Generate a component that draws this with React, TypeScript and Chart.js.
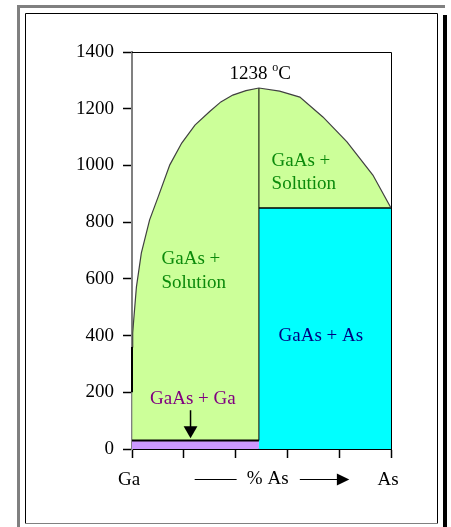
import React, { useEffect, useRef } from 'react';
import { Chart, registerables } from 'chart.js';

Chart.register(...registerables);

// ---- data ----
const xTickValues = [0, 20, 40, 60, 80, 100];
const xTickLabels = ['Ga', '', '', '', '', 'As'];
const yTickValues = [0, 200, 400, 600, 800, 1000, 1200, 1400];

// liquidus curve (% As, temperature °C)
const liquidusX = [0, 0.27, 0.66, 1.7, 3.6, 6.8, 10.1, 14.6, 19.2, 24.3, 30.0, 34.3, 38.9, 44.0, 49, 57.0, 64.8, 73.7, 83.0, 93.0, 100];
const liquidusT = [360, 409, 455, 571, 691, 808, 889, 1002, 1079, 1142, 1190, 1224, 1248, 1264, 1273, 1262, 1241, 1171, 1083, 966, 850];

const gaasComposition = 49; // GaAs line
const peakT = 1273;
const eutecticT = 30; // GaAs + Ga boundary
const asSolidusT = 850; // GaAs + As boundary
const leftEdgeSegmentT = [200, 360];
const arrowX = 22.6;
const arrowT = [137, 70, 66];

const meltLabel = '1238';
const regionTexts = ['GaAs +', 'Solution', 'GaAs + As', 'GaAs + Ga', '% As'];

const SERIF = '"Liberation Serif", "Times New Roman", serif';

const pts = (xs: number[], ys: number[]) => xs.map((x, i) => ({ x, y: ys[i] }));

const framePlugin = {
  id: 'frameAndText',
  beforeDraw(chart: any) {
    const ctx = chart.ctx;
    ctx.save();
    ctx.fillStyle = '#ffffff';
    ctx.fillRect(0, 0, chart.width, chart.height);
    // outer gray frame (top / left)
    ctx.fillStyle = '#808080';
    ctx.fillRect(17, 5, 428, 3);
    ctx.fillRect(17, 5, 3, 522);
    // right dark shadow
    ctx.fillStyle = '#000000';
    ctx.fillRect(443, 15, 4, 512);
    // inner thin frame
    ctx.strokeStyle = '#000000';
    ctx.lineWidth = 1;
    ctx.beginPath();
    ctx.moveTo(25.5, 523.5);
    ctx.lineTo(25.5, 13.5);
    ctx.lineTo(437.5, 13.5);
    ctx.lineTo(437.5, 523.5);
    ctx.stroke();
    ctx.strokeStyle = '#808080';
    ctx.beginPath();
    ctx.moveTo(25.5, 523.5);
    ctx.lineTo(437.5, 523.5);
    ctx.stroke();
    ctx.restore();
  },
  afterDraw(chart: any) {
    const ctx = chart.ctx;
    const xs = chart.scales.x;
    const ys = chart.scales.y;
    const { top, right, left, bottom } = chart.chartArea;
    const px = (v: number) => xs.getPixelForValue(v);
    const py = (v: number) => ys.getPixelForValue(v);
    ctx.save();
    // plot box top and right
    ctx.strokeStyle = '#000000';
    ctx.lineWidth = 1;
    ctx.beginPath();
    ctx.moveTo(left, top + 0.5);
    ctx.lineTo(right + 0.5, top + 0.5);
    ctx.lineTo(right + 0.5, bottom);
    ctx.stroke();
    // black segment on left axis
    ctx.lineWidth = 2;
    ctx.beginPath();
    ctx.moveTo(left, py(leftEdgeSegmentT[0]));
    ctx.lineTo(left, py(leftEdgeSegmentT[1]));
    ctx.stroke();

    ctx.textBaseline = 'middle';
    const font = (s: number) => `${s}px ${SERIF}`;

    // melting point label
    ctx.fillStyle = '#000000';
    ctx.font = font(19);
    const a = meltLabel + ' ';
    const wa = ctx.measureText(a).width;
    ctx.font = font(12);
    const wo = ctx.measureText('o').width;
    ctx.font = font(19);
    const wc = ctx.measureText('C').width;
    const cx = px(49.5);
    const cy = py(1323);
    const sx = cx - (wa + wo + wc) / 2;
    ctx.textAlign = 'left';
    ctx.fillText(a, sx, cy);
    ctx.font = font(12);
    ctx.fillText('o', sx + wa, cy - 6);
    ctx.font = font(19);
    ctx.fillText('C', sx + wa + wo, cy);

    // region labels
    ctx.font = font(19);
    ctx.fillStyle = '#0b8a0b';
    ctx.textAlign = 'left';
    ctx.fillText(regionTexts[0], px(53.9), py(1016));
    ctx.fillText(regionTexts[1], px(53.9), py(935));
    ctx.fillText(regionTexts[0], px(11.4), py(670));
    ctx.fillText(regionTexts[1], px(11.4), py(587));
    ctx.textAlign = 'center';
    ctx.fillStyle = '#000080';
    ctx.fillText(regionTexts[2], px(72.9), py(400));
    ctx.fillStyle = '#800080';
    ctx.fillText(regionTexts[3], px(23.5), py(176));

    // x axis title with arrow
    const ty = bottom + 30;
    ctx.fillStyle = '#000000';
    ctx.fillText(regionTexts[4], px(52.4), ty);
    ctx.lineWidth = 1;
    ctx.beginPath();
    ctx.moveTo(px(24.2), ty + 0.5);
    ctx.lineTo(px(40.4), ty + 0.5);
    ctx.moveTo(px(64.8), ty + 0.5);
    ctx.lineTo(px(79.5), ty + 0.5);
    ctx.stroke();
    ctx.beginPath();
    ctx.moveTo(px(79.1), ty - 5.5);
    ctx.lineTo(px(83.9), ty + 0.5);
    ctx.lineTo(px(79.1), ty + 6.5);
    ctx.closePath();
    ctx.fill();
    ctx.restore();
  },
};

export default function App() {
  const ref = useRef<HTMLCanvasElement | null>(null);
  useEffect(() => {
    if (!ref.current) return;
    const liq = pts(liquidusX, liquidusT);
    const greenPoly = [
      { x: 0, y: eutecticT },
      ...liq,
      { x: gaasComposition, y: asSolidusT },
      { x: gaasComposition, y: eutecticT },
    ];
    const cyanPoly = [
      { x: gaasComposition, y: 0 },
      { x: gaasComposition, y: asSolidusT },
      { x: 100, y: asSolidusT },
      { x: 100, y: 0 },
    ];
    const purplePoly = [
      { x: 0, y: 0 },
      { x: 0, y: eutecticT },
      { x: gaasComposition, y: eutecticT },
      { x: gaasComposition, y: 0 },
    ];
    const base = { pointRadius: 0, pointHitRadius: 0, tension: 0 };
    const chart = new Chart(ref.current, {
      type: 'line',
      data: {
        datasets: [
          { ...base, data: greenPoly, fill: 'shape', backgroundColor: '#ccff99', borderWidth: 0, order: 10 },
          { ...base, data: cyanPoly, fill: 'shape', backgroundColor: '#00ffff', borderWidth: 0, order: 10 },
          { ...base, data: purplePoly, fill: 'shape', backgroundColor: '#cc99ff', borderWidth: 0, order: 10 },
          { ...base, data: liq, fill: false, borderColor: '#404040', borderWidth: 1.2, order: 1 },
          {
            ...base,
            data: [{ x: gaasComposition, y: eutecticT }, { x: gaasComposition, y: peakT }],
            fill: false, borderColor: '#000000', borderWidth: 1, order: 1,
          },
          {
            ...base,
            data: [{ x: gaasComposition, y: asSolidusT }, { x: 100, y: asSolidusT }],
            fill: false, borderColor: '#000000', borderWidth: 1.5, order: 1,
          },
          {
            ...base,
            data: [{ x: 0, y: eutecticT }, { x: gaasComposition, y: eutecticT }],
            fill: false, borderColor: '#000000', borderWidth: 2, order: 1,
          },
          {
            ...base,
            data: [{ x: arrowX, y: arrowT[0] }, { x: arrowX, y: arrowT[1] }],
            fill: false, borderColor: '#000000', borderWidth: 1.5, order: 1,
          },
          {
            data: [{ x: arrowX, y: arrowT[2] }],
            showLine: false, pointStyle: 'triangle', rotation: 180, pointRadius: 8,
            pointBackgroundColor: '#000000', pointBorderColor: '#000000', pointBorderWidth: 0,
            order: 1,
          },
        ] as any,
      },
      options: {
        animation: false,
        responsive: false,
        events: [],
        layout: { padding: { top: 52, right: 60, left: 0, bottom: 0 } },
        plugins: { legend: { display: false }, tooltip: { enabled: false } },
        scales: {
          x: {
            type: 'linear',
            min: 0,
            max: 100,
            z: 1,
            afterBuildTicks: (s: any) => { s.ticks = xTickValues.map((v) => ({ value: v })); },
            afterFit: (s: any) => { s.height = 78; },
            ticks: {
              callback: (_v: any, i: number) => xTickLabels[i],
              font: { family: SERIF, size: 19 },
              color: '#000000',
              padding: 11,
              labelOffset: -3,
              maxRotation: 0,
              autoSkip: false,
            },
            grid: { drawOnChartArea: false, tickLength: 9, tickColor: '#000000', tickWidth: 1.5 },
            border: { color: '#000000', width: 2 },
          },
          y: {
            type: 'linear',
            min: 0,
            max: 1400,
            z: 1,
            afterBuildTicks: (s: any) => { s.ticks = yTickValues.map((v) => ({ value: v })); },
            afterFit: (s: any) => { s.width = 132; },
            ticks: {
              callback: (v: any) => String(v),
              font: { family: SERIF, size: 19 },
              color: '#000000',
              padding: 9,
            },
            grid: { drawOnChartArea: false, tickLength: 9, tickColor: '#000000', tickWidth: 1.5 },
            border: { color: '#808080', width: 2 },
          },
        },
      } as any,
      plugins: [framePlugin],
    });
    return () => chart.destroy();
  }, []);
  return (
    <div style={{ position: 'absolute', left: 0, top: 0, width: 451, height: 527 }}>
      <canvas ref={ref} width={451} height={527} style={{ width: 451, height: 527, display: 'block' }} />
    </div>
  );
}
